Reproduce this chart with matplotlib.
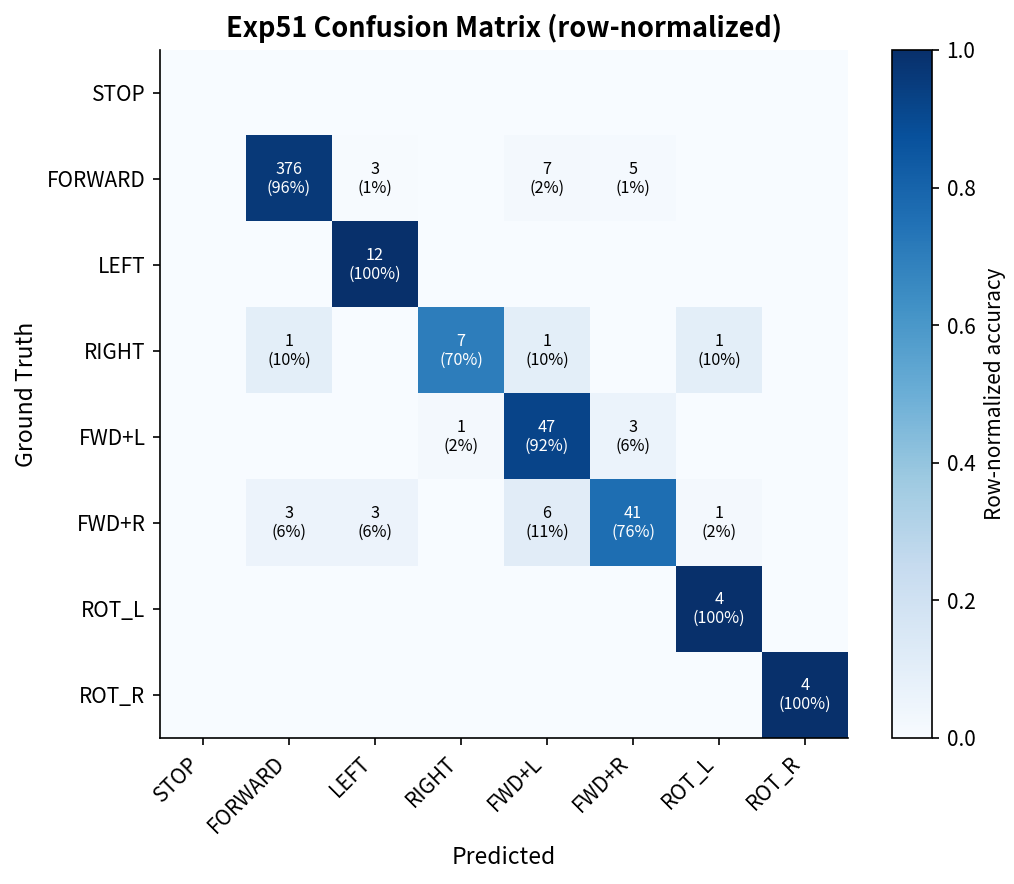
import matplotlib
matplotlib.use("Agg")
import matplotlib.pyplot as plt
import numpy as np

plt.rcParams['font.family'] = ['Noto Sans CJK JP', 'DejaVu Sans']

classes = ["STOP", "FORWARD", "LEFT", "RIGHT", "FWD+L", "FWD+R", "ROT_L", "ROT_R"]
row_stop = [0, 0, 0, 0, 0, 0, 0, 0]
row_forward = [0, 376, 3, 0, 7, 5, 0, 0]
row_left = [0, 0, 12, 0, 0, 0, 0, 0]
row_right = [0, 1, 0, 7, 1, 0, 1, 0]
row_fwdl = [0, 0, 0, 1, 47, 3, 0, 0]
row_fwdr = [0, 3, 3, 0, 6, 41, 1, 0]
row_rotl = [0, 0, 0, 0, 0, 0, 4, 0]
row_rotr = [0, 0, 0, 0, 0, 0, 0, 4]

cm = np.array([row_stop, row_forward, row_left, row_right,
               row_fwdl, row_fwdr, row_rotl, row_rotr], dtype=float)
sums = cm.sum(axis=1, keepdims=True)
norm = np.divide(cm, sums, out=np.zeros_like(cm), where=sums > 0)

fig = plt.figure(figsize=(1014/150, 884/150), dpi=150)
ax = fig.add_axes([0.1578, 0.1652, 0.6785, 0.7783])
cax = fig.add_axes([0.8797, 0.1652, 0.0394, 0.7783])

im = ax.imshow(norm, cmap="Blues", vmin=0, vmax=1, aspect="auto")
cb = fig.colorbar(im, cax=cax)
cb.set_label("Row-normalized accuracy", fontsize=10)
cb.set_ticks([0, 0.2, 0.4, 0.6, 0.8, 1.0])
cb.ax.tick_params(labelsize=10)

n = len(classes)
for i in range(n):
    for j in range(n):
        if cm[i, j] > 0:
            color = "white" if norm[i, j] > 0.5 else "black"
            ax.text(j, i, f"{int(cm[i, j])}\n({norm[i, j]*100:.0f}%)",
                    ha="center", va="center", fontsize=7.8, color=color,
                    linespacing=1.2)

ax.set_xticks(range(n))
ax.set_yticks(range(n))
ax.set_xticklabels(classes, rotation=45, ha="right", fontsize=10)
ax.set_yticklabels(classes, fontsize=10)
ax.set_xlabel("Predicted", fontsize=11)
ax.set_ylabel("Ground Truth", fontsize=11)
ax.set_title("Exp51 Confusion Matrix (row-normalized)", fontsize=13, fontweight="bold")
ax.spines["top"].set_visible(False)
ax.spines["right"].set_visible(False)

fig.savefig("out.png", dpi=150)
